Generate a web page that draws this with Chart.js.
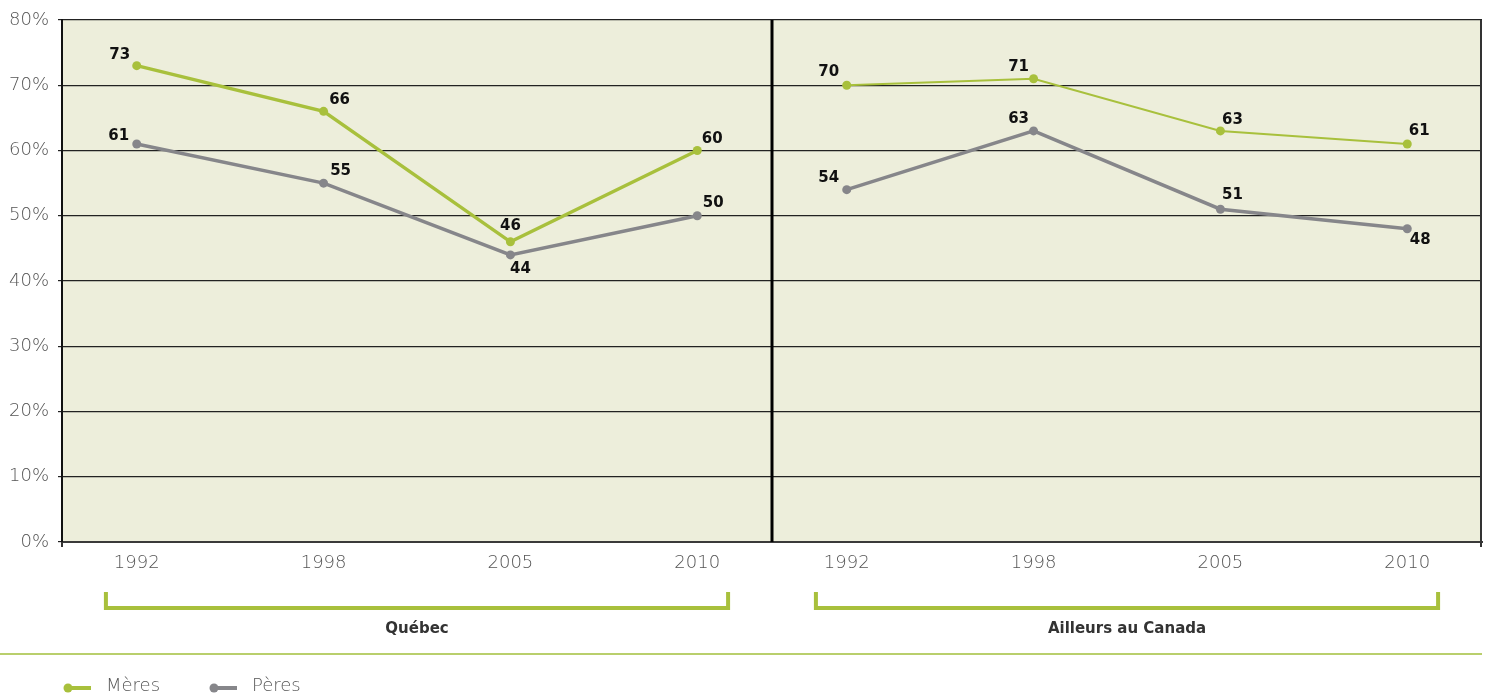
<!DOCTYPE html>
<html lang="fr">
<head>
<meta charset="utf-8">
<title>Mères et pères – Québec et ailleurs au Canada</title>
<script src="https://cdn.jsdelivr.net/npm/chart.js@4/dist/chart.umd.min.js"></script>
<style>
  html, body { margin: 0; padding: 0; background: #ffffff; }
  #wrap { width: 1488px; height: 698px; position: relative; }
  canvas { display: block; }
</style>
</head>
<body>
<div id="wrap"><canvas id="chart" width="1488" height="698"></canvas></div>
<script>
// ---- Données ----
const YEARS = ['1992', '1998', '2005', '2010'];
const GROUPS = ['Québec', 'Ailleurs au Canada'];
const MERES_QUEBEC = [73, 66, 46, 60];
const PERES_QUEBEC = [61, 55, 44, 50];
const MERES_CANADA = [70, 71, 63, 61];
const PERES_CANADA = [54, 63, 51, 48];
const SERIES_NAMES = ['Mères', 'Pères'];
const Y_MAX = 80;
const Y_STEP = 10;

// ---- Mise en page ----
const GREEN = '#a8c03c';
const GREY = '#86868a';
const PLOT_BG = '#edeedb';
const TEXT_GREY = '#555555';
const FONT = "'DejaVu Sans', 'Open Sans', sans-serif";
const GROUP_STEP = 3.8;   // distance between the first year of each group, in x units
const EDGE = 0.4;         // margin between a group's outer year and its panel edge
const BRACKET_PAD = 0.165;

const xPos = (g, i) => g * GROUP_STEP + i;
const toPoints = (g, vals) => vals.map((v, i) => ({ x: xPos(g, i), y: v }));
const tickPositions = [];
GROUPS.forEach((_, g) => YEARS.forEach((_, i) => tickPositions.push(xPos(g, i))));

// Offsets (px) of each value label from its point
const LABEL_OFFSETS = [
  [[-17, -11], [16, -11], [0, -16], [15, -11]],
  [[-18, -8], [17, -12], [10, 14], [16, -13]],
  [[-18, -13], [-15, -12], [12, -11], [12, -13]],
  [[-18, -12], [-15, -12], [12, -14], [13, 11]]
];

const datasets = [
  { label: SERIES_NAMES[0], data: toPoints(0, MERES_QUEBEC), borderColor: GREEN, backgroundColor: GREEN, borderWidth: 3.5 },
  { label: SERIES_NAMES[1], data: toPoints(0, PERES_QUEBEC), borderColor: GREY, backgroundColor: GREY, borderWidth: 3.5 },
  { label: SERIES_NAMES[0], data: toPoints(1, MERES_CANADA), borderColor: GREEN, backgroundColor: GREEN, borderWidth: 2 },
  { label: SERIES_NAMES[1], data: toPoints(1, PERES_CANADA), borderColor: GREY, backgroundColor: GREY, borderWidth: 3.5 }
].map(d => Object.assign(d, {
  pointRadius: 4.5, pointHoverRadius: 4.5, pointBorderWidth: 0,
  pointBackgroundColor: d.borderColor, tension: 0, fill: false
}));

// Plot background
const plotBackground = {
  id: 'plotBackground',
  beforeDraw(chart) {
    const { ctx, chartArea: a } = chart;
    ctx.save();
    ctx.fillStyle = PLOT_BG;
    ctx.fillRect(a.left, a.top, a.right - a.left, a.bottom - a.top);
    ctx.restore();
  }
};

// Panel divider, frame, brackets, group names, separator and legend
const decorations = {
  id: 'decorations',
  beforeDatasetsDraw(chart) {
    const { ctx, chartArea: a, scales: { x } } = chart;
    ctx.save();
    // divider between the two panels
    const xd = x.getPixelForValue(xPos(0, YEARS.length - 1) + EDGE);
    ctx.strokeStyle = '#000';
    ctx.lineWidth = 3;
    ctx.beginPath(); ctx.moveTo(xd, a.top); ctx.lineTo(xd, a.bottom); ctx.stroke();
    // right frame
    ctx.strokeStyle = '#333';
    ctx.lineWidth = 2;
    ctx.beginPath(); ctx.moveTo(a.right - 1, a.top); ctx.lineTo(a.right - 1, a.bottom + 5); ctx.stroke();
    // small tick below left axis
    ctx.beginPath(); ctx.moveTo(a.left, a.bottom); ctx.lineTo(a.left, a.bottom + 5); ctx.stroke();
    ctx.restore();
  },
  afterDraw(chart) {
    const { ctx, chartArea: a, scales: { x } } = chart;
    ctx.save();
    // brackets and group names
    GROUPS.forEach((name, g) => {
      const x0 = x.getPixelForValue(xPos(g, 0) - BRACKET_PAD);
      const x1 = x.getPixelForValue(xPos(g, YEARS.length - 1) + BRACKET_PAD);
      ctx.strokeStyle = GREEN;
      ctx.lineWidth = 4;
      ctx.lineJoin = 'miter';
      ctx.lineCap = 'butt';
      ctx.beginPath();
      ctx.moveTo(x0, 592);
      ctx.lineTo(x0, 608);
      ctx.lineTo(x1, 608);
      ctx.lineTo(x1, 592);
      ctx.stroke();
      ctx.fillStyle = '#333';
      ctx.font = `bold 15px ${FONT}`;
      ctx.textAlign = 'center';
      ctx.textBaseline = 'middle';
      ctx.fillText(name, (x0 + x1) / 2, 629);
    });
    // separator
    ctx.strokeStyle = '#b9cf6c';
    ctx.lineWidth = 2;
    ctx.beginPath(); ctx.moveTo(0, 654); ctx.lineTo(a.right, 654); ctx.stroke();
    // legend
    const items = [
      { text: SERIES_NAMES[0], color: GREEN, x: 68 },
      { text: SERIES_NAMES[1], color: GREY, x: 214 }
    ];
    items.forEach(it => {
      ctx.strokeStyle = it.color;
      ctx.fillStyle = it.color;
      ctx.lineWidth = 4;
      ctx.beginPath(); ctx.moveTo(it.x, 688); ctx.lineTo(it.x + 23, 688); ctx.stroke();
      ctx.beginPath(); ctx.arc(it.x, 688, 4.5, 0, Math.PI * 2); ctx.fill();
      ctx.fillStyle = TEXT_GREY;
      ctx.font = `300 18px ${FONT}`;
      ctx.textAlign = 'left';
      ctx.textBaseline = 'middle';
      ctx.fillText(it.text, it.x + 38, 686);
    });
    ctx.restore();
  }
};

// Value labels next to every point
const valueLabels = {
  id: 'valueLabels',
  afterDatasetsDraw(chart) {
    const { ctx } = chart;
    ctx.save();
    ctx.font = `bold 15px ${FONT}`;
    ctx.fillStyle = '#111';
    ctx.textAlign = 'center';
    ctx.textBaseline = 'middle';
    chart.data.datasets.forEach((ds, di) => {
      const meta = chart.getDatasetMeta(di);
      meta.data.forEach((pt, i) => {
        const [dx, dy] = LABEL_OFFSETS[di][i];
        ctx.fillText(String(ds.data[i].y), pt.x + dx, pt.y + dy);
      });
    });
    ctx.restore();
  }
};

new Chart(document.getElementById('chart'), {
  type: 'line',
  data: { datasets },
  plugins: [plotBackground, decorations, valueLabels],
  options: {
    responsive: false,
    animation: false,
    devicePixelRatio: 1,
    layout: { padding: { top: 20, right: 6, left: 0, bottom: 0 } },
    plugins: { legend: { display: false }, tooltip: { enabled: false } },
    scales: {
      x: {
        type: 'linear',
        min: -EDGE,
        max: xPos(GROUPS.length - 1, YEARS.length - 1) + EDGE,
        afterBuildTicks(scale) { scale.ticks = tickPositions.map(v => ({ value: v })); },
        afterFit(scale) { scale.height = 156; },
        grid: { display: false, drawTicks: false },
        border: { display: true, color: '#3a3a3a', width: 2 },
        ticks: {
          autoSkip: false,
          maxRotation: 0,
          padding: 11,
          color: TEXT_GREY,
          font: { family: FONT, size: 18, weight: '300' },
          callback(value) {
            const idx = tickPositions.findIndex(p => Math.abs(p - value) < 1e-6);
            return idx >= 0 ? YEARS[idx % YEARS.length] : '';
          }
        }
      },
      y: {
        min: 0,
        max: Y_MAX,
        afterFit(scale) { scale.width = 62; },
        grid: { color: '#222', lineWidth: 1.2, drawTicks: true, tickLength: 4 },
        border: { display: true, color: '#111', width: 2 },
        ticks: {
          stepSize: Y_STEP,
          padding: 9,
          color: TEXT_GREY,
          font: { family: FONT, size: 18, weight: '300' },
          callback: v => v + '%'
        }
      }
    }
  }
});
</script>
</body>
</html>
